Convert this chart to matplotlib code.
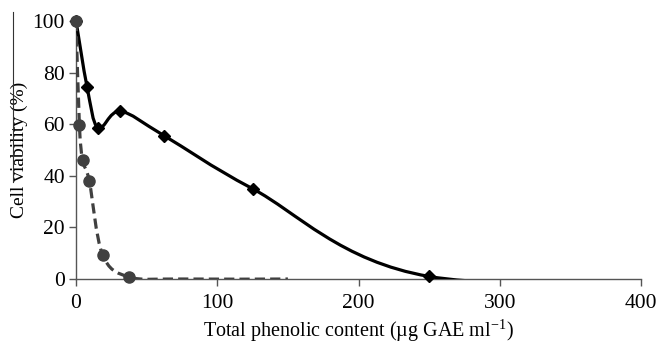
import numpy as np
import matplotlib
matplotlib.use('Agg')
import matplotlib.pyplot as plt
from matplotlib.path import Path
from matplotlib.patches import PathPatch
from matplotlib.lines import Line2D

# solid series (diamonds)
conc_a = [0, 7.8, 15.6, 31.25, 62.5, 125, 250, 500]
via_a = [100, 74.5, 58.5, 65, 55.5, 35, 1, 0]
n_marked_a = 7
# dashed series (circles)
conc_b = [0, 2.4, 4.7, 9.4, 18.75, 37.5, 75, 150]
via_b = [100, 59.5, 46, 38, 9.5, 0.8, 0, 0]
n_marked_b = 6

xticks = [0, 100, 200, 300, 400]
yticks = [0, 20, 40, 60, 80, 100]


def smooth_path(xs, ys):
    # Excel-like smoothed line: cubic bezier through every point
    p = np.column_stack([xs, ys]).astype(float)
    verts = [p[0]]
    codes = [Path.MOVETO]
    n = len(p)
    for i in range(n - 1):
        p0 = p[i - 1] if i > 0 else p[i]
        p1, p2 = p[i], p[i + 1]
        p3 = p[i + 2] if i + 2 < n else p[i + 1]
        c1 = p1 + (p2 - p0) / 6.0
        c2 = p2 - (p3 - p1) / 6.0
        verts += [c1, c2, p2]
        codes += [Path.CURVE4] * 3
    return Path(verts, codes)


plt.rcParams['font.family'] = ['Liberation Serif', 'DejaVu Serif']
plt.rcParams['mathtext.fontset'] = 'stix'

fig = plt.figure(figsize=(6.64, 3.46), dpi=100)
ax = fig.add_axes([0.1145, 0.1936, 0.8509, 0.7457])

ax.add_patch(PathPatch(smooth_path(conc_a, via_a), fill=False,
                       edgecolor='black', lw=2.3, zorder=3))
ax.plot(conc_a[:n_marked_a], via_a[:n_marked_a], ls='none', marker='D', ms=6,
        color='black', zorder=4, clip_on=False)

ax.add_patch(PathPatch(smooth_path(conc_b, via_b), fill=False,
                       edgecolor='#404040', lw=2.3, ls=(0, (3.2, 1.6)), zorder=5))
ax.plot(conc_b[:n_marked_b], via_b[:n_marked_b], ls='none', marker='o', ms=8,
        color='#404040', zorder=6, clip_on=False)

ax.set_xlim(0, 400)
ax.set_ylim(0, 100)
ax.set_xticks(xticks)
ax.set_yticks(yticks)
for s in ['top', 'right']:
    ax.spines[s].set_visible(False)
for s in ['left', 'bottom']:
    ax.spines[s].set_color('#555555')
    ax.spines[s].set_linewidth(1.0)
ax.tick_params(direction='out', length=5, width=1, color='#555555',
               labelsize=15.5)
ax.tick_params(axis='x', pad=6)
ax.tick_params(axis='y', pad=3)

ax.set_xlabel('Total phenolic content (\u00b5g GAE ml$^{\\mathregular{-1}}$)',
              fontsize=14.5, labelpad=3)
ax.set_ylabel('Cell viability (%)', fontsize=14, labelpad=3)

# thin stray line left of the y label
fig.add_artist(Line2D([0.0195, 0.0195], [1 - 12 / 346, 1 - 182 / 346],
                      transform=fig.transFigure, color='#333333', lw=0.8))

fig.savefig('out.png', dpi=100)
